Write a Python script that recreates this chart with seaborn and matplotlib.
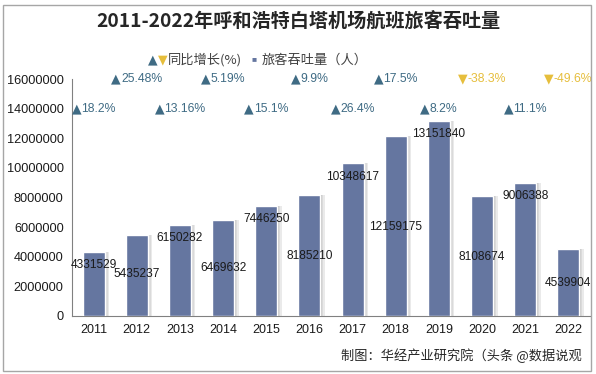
import pandas as pd
import matplotlib
matplotlib.use("Agg")
import matplotlib.pyplot as plt
from matplotlib.patches import Rectangle
from matplotlib.transforms import offset_copy
import seaborn as sns

years = ["2011", "2012", "2013", "2014", "2015", "2016",
         "2017", "2018", "2019", "2020", "2021", "2022"]
passengers = [4331529, 5435237, 6150282, 6469632, 7446250, 8185210,
              10348617, 12159175, 13151840, 8108674, 9006388, 4539904]
growth = [18.2, 25.48, 13.16, 5.19, 15.1, 9.9,
          26.4, 17.5, 8.2, -38.3, 11.1, -49.6]
growth_text = ["18.2%", "25.48%", "13.16%", "5.19%", "15.1%", "9.9%",
               "26.4%", "17.5%", "8.2%", "-38.3%", "11.1%", "-49.6%"]

# label offsets below bar top, in pixels (to mimic the original placement)
label_drop = [13, 39, 13, 48, 13, 61, 14, 91, 13, 61, 13, 34]

BAR = "#6576A0"
UP = "#3F6B84"
DOWN = "#E6BE3C"
CJK = ["Noto Sans CJK SC", "DejaVu Sans"]
LAT = ["Liberation Sans", "DejaVu Sans"]

df = pd.DataFrame({"year": years, "passengers": passengers})

sns.set_style("white")
plt.rcParams["font.family"] = LAT

fig = plt.figure(figsize=(5.96, 3.74), dpi=100)
ax = fig.add_axes([72 / 596, 1 - 316 / 374, 518 / 596, 237 / 374])

sns.barplot(data=df, x="year", y="passengers", color=BAR, saturation=1,
            width=0.51, ax=ax, zorder=3)

# soft shadow to the right of each bar
for p in list(ax.patches):
    x0 = p.get_x() + p.get_width()
    for k, c in enumerate(["#c8c8c8", "#dadada", "#eaeaea"]):
        ax.add_patch(Rectangle((x0 + k * 0.035, 0), 0.035, p.get_height(),
                               color=c, zorder=2, lw=0))

ax.set_xlim(-0.5, len(years) - 0.5)
ax.set_ylim(0, 16000000)
ax.set_yticks(range(0, 16000001, 2000000))
ax.set_yticklabels([str(v) for v in range(0, 16000001, 2000000)], fontsize=9.2, color="#1a1a1a")
ax.set_xlabel("")
ax.set_ylabel("")
ax.tick_params(axis="x", length=0, labelsize=9, labelcolor="#1a1a1a", pad=6)
ax.tick_params(axis="y", length=4, width=0.8, color="#808080", direction="out", pad=2)
ax.set_xticks([i + 0.5 for i in range(len(years) - 1)], minor=True)
ax.tick_params(axis="x", which="minor", length=4, width=0.8, color="#808080", direction="out")
for s in ["top", "right"]:
    ax.spines[s].set_visible(False)
for s in ["left", "bottom"]:
    ax.spines[s].set_color("#808080")
    ax.spines[s].set_linewidth(0.8)

px_per_unit = 237 / 16000000
for i, (v, d) in enumerate(zip(passengers, label_drop)):
    ax.text(i, v - d / px_per_unit, str(v), ha="center", va="center",
            fontsize=8.6, color="#1a1a1a", zorder=5)

# growth labels: big triangle + percentage, centred on each bar
renderer = fig.canvas.get_renderer()
for i, (g, t) in enumerate(zip(growth, growth_text)):
    y = 14000000 if i % 2 == 0 else 16000000
    c = UP if g >= 0 else DOWN
    mark = "▲" if g >= 0 else "▼"
    tri = ax.text(i, y, mark, ha="left", va="center", fontsize=9,
                  color=c, family=["DejaVu Sans"], clip_on=False, zorder=5)
    lab = ax.text(i, y, t, ha="left", va="center", fontsize=8.8,
                  color=c, family=LAT, clip_on=False, zorder=5)
    tw = tri.get_window_extent(renderer).width
    lw = lab.get_window_extent(renderer).width
    start = -(tw + lw) / 2
    tri.set_transform(offset_copy(ax.transData, fig=fig, x=start, y=0, units="dots"))
    lab.set_transform(offset_copy(ax.transData, fig=fig, x=start + tw, y=0, units="dots"))

fig.text(0.5, 1 - 22 / 374, "2011-2022年呼和浩特白塔机场航班旅客吞吐量",
         ha="center", va="center", fontsize=13.8, fontweight="bold",
         color="#262626", family=CJK)

# legend line
fig.text(148 / 596, 1 - 60 / 374, "▲", ha="left", va="center", fontsize=9,
         color=UP, family=["DejaVu Sans"])
fig.text(158 / 596, 1 - 60 / 374, "▼", ha="left", va="center", fontsize=9,
         color=DOWN, family=["DejaVu Sans"])
fig.text(168 / 596, 1 - 60 / 374, "同比增长(%)", ha="left", va="center",
         fontsize=9.5, color="#404040", family=CJK)
fig.text(252 / 596, 1 - 60 / 374, "■", ha="left", va="center", fontsize=6,
         color=BAR, family=LAT)
fig.text(262 / 596, 1 - 60 / 374, "旅客吞吐量（人）", ha="left", va="center",
         fontsize=9.5, color="#404040", family=CJK)

fig.text(582 / 596, 1 - 356 / 374, "制图：华经产业研究院（头条 @数据说观",
         ha="right", va="center", fontsize=9.5, color="#262626", family=CJK)

fig.patches.append(Rectangle((3 / 596, 3 / 374), 588 / 596, 366 / 374,
                             transform=fig.transFigure, fill=False,
                             edgecolor="#a6a6a6", lw=1))

fig.savefig("out.png", dpi=100)
